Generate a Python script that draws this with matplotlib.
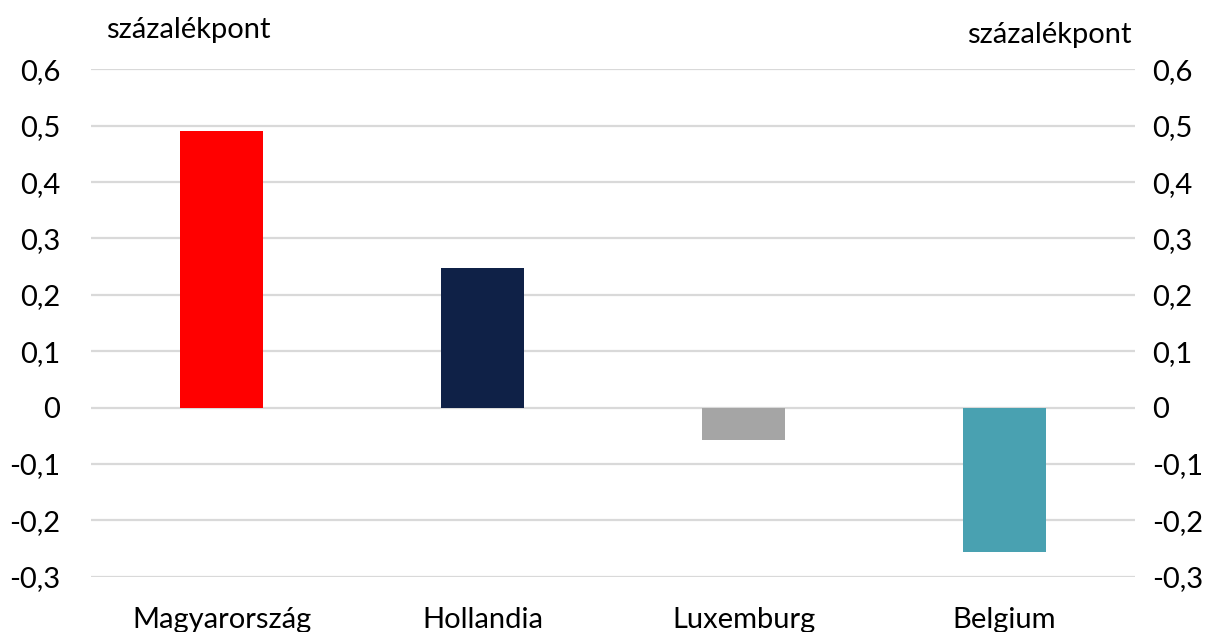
import numpy as np
import matplotlib.pyplot as plt
from matplotlib.ticker import FuncFormatter

countries = ['Magyarország', 'Hollandia', 'Luxemburg', 'Belgium']
values = [0.49, 0.248, -0.057, -0.256]
colors = ['#FF0000', '#0F2147', '#A5A5A5', '#49A1B1']
yticks = [-0.3, -0.2, -0.1, 0, 0.1, 0.2, 0.3, 0.4, 0.5, 0.6]

plt.rcParams['font.family'] = ['Lato', 'DejaVu Sans']
fs = 21

fig = plt.figure(figsize=(12.15, 6.32), dpi=100)
ax = fig.add_axes([0.0749, 0.0875, 0.8593, 0.8028])

x = np.arange(len(countries))
ax.bar(x, values, width=0.315, color=colors, zorder=3)

ax.set_xlim(-0.5, len(countries) - 0.5)
ax.set_ylim(-0.3, 0.6)
ax.set_yticks(yticks)
fmt = FuncFormatter(lambda v, p: ('%g' % round(v, 1)).replace('.', ','))
ax.yaxis.set_major_formatter(fmt)
ax.grid(axis='y', color='#D9D9D9', linewidth=1.6, zorder=0)
ax.set_xticks(x)
ax.set_xticklabels(countries, fontsize=fs)
ax.tick_params(axis='x', length=0, pad=22)
ax.tick_params(axis='y', length=0, pad=22, labelsize=fs)
for s in ax.spines.values():
    s.set_visible(False)

ax2 = ax.twinx()
ax2.set_ylim(-0.3, 0.6)
ax2.set_yticks(yticks)
ax2.yaxis.set_major_formatter(fmt)
ax2.tick_params(axis='y', length=0, pad=12, labelsize=fs)
for s in ax2.spines.values():
    s.set_visible(False)

fig.text(0.0872, 0.94, 'százalékpont', fontsize=fs, ha='left', va='baseline')
fig.text(0.931, 0.932, 'százalékpont', fontsize=fs, ha='right', va='baseline')

fig.savefig('out.png', dpi=100)
